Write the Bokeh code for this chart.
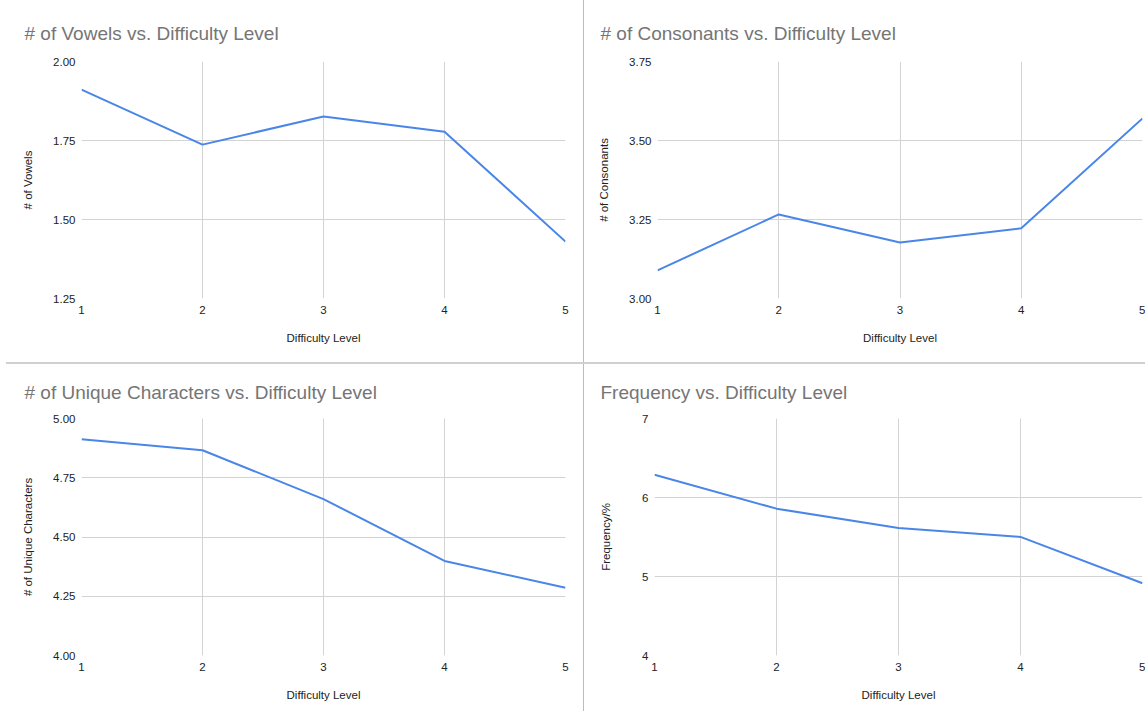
from bokeh.plotting import figure
from bokeh.models import Range1d, FixedTicker, NumeralTickFormatter, Div
from bokeh.layouts import row, column
from bokeh.embed import file_html
from bokeh.resources import INLINE

# ---- data ----
levels = [1, 2, 3, 4, 5]
vowels = [1.911, 1.737, 1.826, 1.778, 1.430]
consonants = [3.089, 3.266, 3.177, 3.222, 3.570]
unique_chars = [4.912, 4.866, 4.660, 4.399, 4.286]
frequency = [6.287, 5.859, 5.615, 5.501, 4.914]

vowel_ticks = [1.25, 1.50, 1.75, 2.00]
consonant_ticks = [3.00, 3.25, 3.50, 3.75]
unique_ticks = [4.00, 4.25, 4.50, 4.75, 5.00]
freq_ticks = [4, 5, 6, 7]

FONT = "Liberation Sans"
LINE = "#4a86e8"
GRID = "#d3d3d3"


def make(title, ylabel, yvals, yticks, fmt, width, height, left, right, top, bottom,
         lab_standoff, title_offset, title_standoff):
    p = figure(width=width, height=height, x_range=Range1d(1, 5),
               y_range=Range1d(yticks[0], yticks[-1]),
               output_backend="svg", toolbar_location=None,
               min_border_left=left, min_border_right=right,
               min_border_top=top, min_border_bottom=bottom)
    p.title.text = title
    p.title.text_font = FONT
    p.title.text_font_size = "19px"
    p.title.text_font_style = "normal"
    p.title.text_color = "#757575"
    p.title.align = "left"
    p.title.offset = title_offset
    p.title.standoff = title_standoff
    p.outline_line_color = None
    p.background_fill_color = "white"
    p.border_fill_color = "white"

    p.line(levels, yvals, line_color=LINE, line_width=2)

    p.xaxis.ticker = FixedTicker(ticks=levels)
    p.yaxis.ticker = FixedTicker(ticks=yticks)
    p.yaxis.formatter = NumeralTickFormatter(format=fmt)
    p.xaxis.axis_label = "Difficulty Level"
    p.yaxis.axis_label = ylabel
    for ax in (p.xaxis, p.yaxis):
        ax.axis_line_color = None
        ax.major_tick_line_color = None
        ax.minor_tick_line_color = None
        ax.major_tick_out = 0
        ax.major_tick_in = 0
        ax.minor_tick_out = 0
        ax.minor_tick_in = 0
        ax.major_label_text_font = FONT
        ax.major_label_text_font_size = "11.5px"
        ax.major_label_text_color = "#222222"
        ax.axis_label_text_font = FONT
        ax.axis_label_text_font_size = "11.5px"
        ax.axis_label_text_font_style = "normal"
        ax.axis_label_text_color = "#222222"
    p.xaxis.major_label_standoff = 7
    p.xaxis.axis_label_standoff = 15
    p.yaxis.major_label_standoff = 6
    p.yaxis.axis_label_standoff = lab_standoff
    p.xgrid.grid_line_color = GRID
    p.ygrid.grid_line_color = GRID
    return p


top_h = 362
bot_h = 347

tl = make("# of Vowels vs. Difficulty Level", "# of Vowels", vowels, vowel_ticks, "0.00",
          583, top_h, 81, 18, 61, 64, 16, -57, 36)
tr = make("# of Consonants vs. Difficulty Level", "# of Consonants", consonants, consonant_ticks, "0.00",
          561, top_h, 73, 3, 61, 64, 16, -57, 36)
bl = make("# of Unique Characters vs. Difficulty Level", "# of Unique Characters", unique_chars, unique_ticks, "0.00",
          583, bot_h, 81, 18, 53, 56, 16, -57, 31)
br = make("Frequency vs. Difficulty Level", "Frequency/%", frequency, freq_ticks, "0",
          561, bot_h, 70, 3, 53, 56, 27, -54, 31)

SEP_STYLE = {"background-color": "#bdbdbd", "font-size": "0px", "line-height": "0px",
             "padding": "0px", "overflow": "hidden"}


def vsep(h):
    return Div(text="", width=1, height=h, margin=0, styles=SEP_STYLE)


hsep = Div(text="", width=1139, height=2, margin=(0, 0, 0, 6),
           styles=dict(SEP_STYLE, **{"background-color": "#d0d0d0"}))

layout = column(row(tl, vsep(top_h), tr), hsep, row(bl, vsep(bot_h), br))

open("out.html", "w").write(file_html(layout, INLINE))
